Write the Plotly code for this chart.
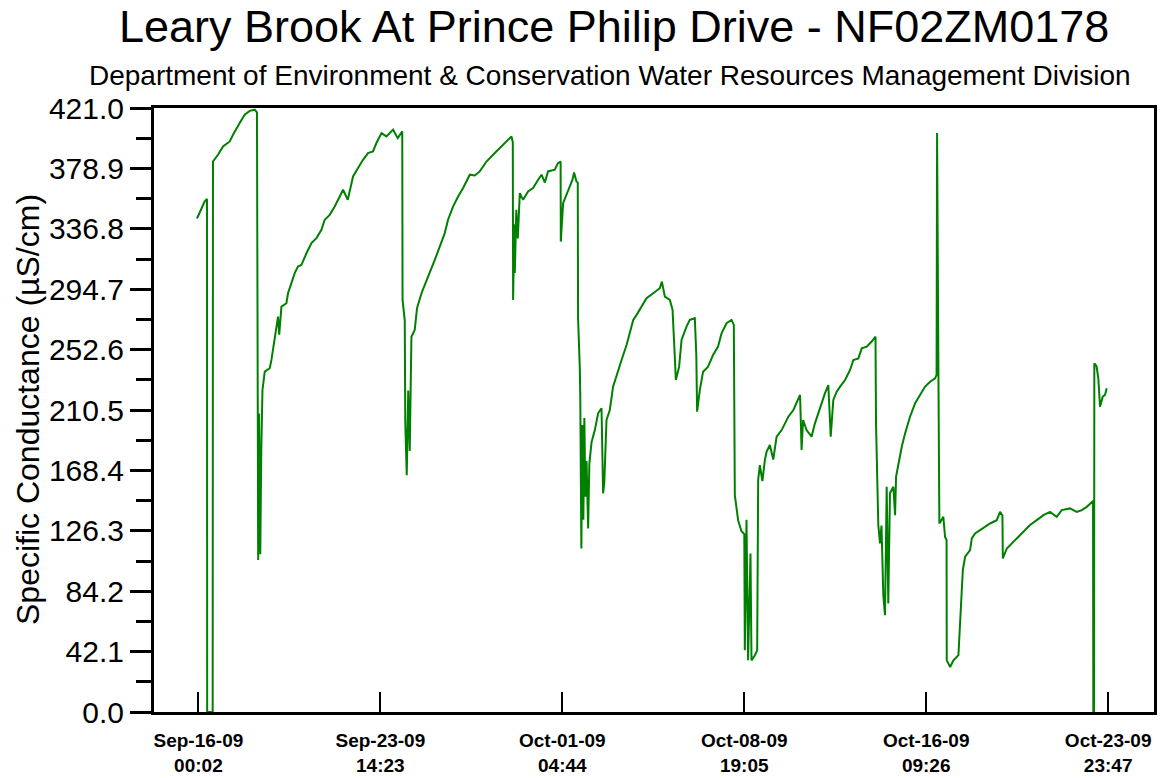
import pandas as pd
import plotly.graph_objects as go

# ---- data ----
start_time = pd.Timestamp("2009-09-16 00:02")

hours_since_start = [
    -1.4, 0.3, 3.3, 6.3, 8.6, 8.8, 14.3, 14.6, 19.6, 24.7,
    31.4, 34.7, 41.4, 46.4, 51.4, 56.4, 58.7, 59.2, 59.9, 60.8,
    62.0, 63.0, 64.2, 66.5, 71.5, 73.2, 76.5, 79.8, 81.0, 83.2,
    88.2, 89.8, 93.2, 96.5, 99.8, 103.3, 108.3, 113.3, 118.3, 123.3,
    126.6, 131.6, 136.6, 140.0, 145.0, 149.7, 155.0, 160.0, 165.0, 170.0,
    175.0, 178.4, 183.5, 188.5, 195.1, 199.8, 204.3, 204.6, 206.8, 207.3,
    208.8, 210.3, 211.8, 213.5, 216.8, 219.1, 223.6, 226.9, 231.9, 236.9,
    241.9, 246.9, 250.2, 255.2, 260.3, 265.3, 272.0, 277.0, 282.0, 288.7,
    295.3, 302.0, 308.8, 313.8, 315.1, 315.4, 316.6, 317.1, 318.6, 320.1,
    322.1, 325.4, 330.4, 335.4, 340.5, 343.9, 347.2, 350.4, 357.1, 360.4,
    363.0, 363.2, 365.5, 368.9, 371.5, 374.9, 376.5, 378.9, 380.2, 380.5,
    382.2, 382.7, 383.8, 384.8, 385.8, 386.8, 387.8, 389.0, 390.6, 391.8,
    394.0, 397.3, 400.6, 404.0, 405.6, 406.8, 409.0, 412.3, 415.6, 419.0,
    424.1, 429.1, 432.4, 435.8, 439.2, 444.1, 449.1, 455.8, 462.4, 464.5,
    467.5, 472.5, 475.2, 476.8, 478.5, 481.8, 484.2, 489.2, 492.5, 497.5,
    499.0, 499.8, 502.5, 505.8, 510.8, 515.8, 520.8, 524.3, 529.3, 534.3,
    536.6, 537.6, 540.9, 544.3, 547.1, 547.6, 548.4, 549.3, 550.9, 553.3,
    554.3, 557.7, 560.0, 561.0, 562.7, 565.2, 567.7, 569.4, 572.7, 576.1,
    579.5, 584.5, 587.9, 591.2, 596.3, 599.7, 603.0, 604.5, 606.0, 609.5,
    614.5, 617.9, 621.2, 624.6, 627.9, 631.3, 633.7, 636.3, 639.7, 643.1,
    648.1, 653.1, 656.4, 661.4, 664.8, 669.8, 674.8, 678.6, 679.1, 681.4,
    683.1, 684.6, 686.4, 688.1, 689.8, 691.4, 693.1, 696.5, 698.2, 699.2,
    701.4, 704.9, 708.2, 713.2, 718.3, 723.3, 728.3, 733.3, 738.3, 739.8,
    740.3, 741.6, 742.6, 746.6, 748.3, 749.8, 750.0, 753.4, 756.7, 761.7,
    763.4, 766.1, 768.4, 773.4, 775.1, 778.4, 783.4, 788.4, 793.4, 800.1,
    803.4, 805.8, 806.2, 810.2, 815.2, 820.2, 826.8, 833.5, 840.2, 846.9,
    853.5, 860.2, 865.2, 873.5, 880.3, 885.3, 890.3, 895.3, 896.6, 896.9,
    897.6, 897.9, 900.1, 901.9, 903.6, 906.3, 908.6, 910.3,
]

conductance = [
    344, 346.5, 352, 356, 357.5, 0, 0, 383.7, 388.4, 394.2,
    397.7, 402.4, 410.5, 416.3, 419, 419.8, 418, 145, 106, 208,
    110, 182, 224.4, 237.2, 239.6, 245.4, 259.3, 275.6, 263, 282.6,
    284.9, 291.9, 298.9, 305.9, 310.5, 311.7, 319.8, 326.8, 330.3, 336.1,
    343.1, 346.5, 352.3, 357, 364, 357, 373.3, 379.1, 384.9, 389.6,
    390.7, 396.6, 403.5, 401.2, 405.9, 400, 404.7, 287.2, 273, 203,
    165, 224, 182, 261.6, 266.3, 281.4, 291.9, 297.7, 305.9, 315.1,
    324.4, 333.8, 343.1, 352.3, 359.3, 365.2, 374.5, 374, 376.8, 383.7,
    388.4, 393.1, 397.7, 401.2, 397, 287.2, 340, 306, 350, 330,
    361.7, 357, 362.8, 365.2, 371, 374.5, 369, 376.8, 378, 382.6,
    383.7, 327.9, 354.7, 360.5, 364, 371, 376.1, 369.8, 369, 274.5,
    240.7, 221, 114, 200, 134, 205, 150, 175, 128, 173,
    188, 196.5, 208.2, 211.7, 152.4, 160, 203.5, 210.5, 226.8, 234.9,
    245.4, 255.8, 264, 273.3, 276.8, 282.6, 288.4, 291.9, 295.4, 300,
    289.5, 287.2, 280.3, 257, 231.4, 240.7, 259.3, 268.6, 273.3, 274.5,
    248.9, 209.3, 224.4, 237.2, 240.7, 248.9, 254.7, 264, 271, 273.3,
    269.8, 151.2, 133.7, 126, 124, 43, 94, 134, 36, 110.5,
    36, 39.6, 43, 161.7, 172.1, 161, 175.6, 181.4, 186.1, 176,
    191.9, 196.5, 201.2, 205.8, 210.5, 216.3, 221, 182.6, 203.5, 196.5,
    191.9, 201.2, 208.2, 215.2, 222.1, 227.9, 191.9, 217.5, 223.3, 226.8,
    231.4, 238.4, 245.4, 246.5, 253.5, 254.7, 258.2, 261.6, 201.2, 130.3,
    117.5, 130, 81.4, 67.5, 157, 75.6, 152.4, 157, 137.2, 164,
    173.3, 184.9, 194.2, 205.8, 215.2, 221, 226.8, 230.2, 232.6, 235,
    403.6, 243, 131.4, 136, 122, 120, 36, 31.4, 36, 39.6,
    66.3, 98.9, 108.2, 112.8, 121, 124.5, 126.8, 129.1, 131.4, 133.7,
    139.5, 137, 107, 114, 117.5, 121, 125.6, 130.3, 133.7, 137.2,
    139.5, 136, 140.7, 141.9, 139.5, 140.7, 143, 146.5, 147, 0,
    0, 243, 241, 232.6, 212.8, 219.8, 221, 225.6,
]

x_tick_times = ["2009-09-16 00:02", "2009-09-23 14:23", "2009-10-01 04:44",
                "2009-10-08 19:05", "2009-10-16 09:26", "2009-10-23 23:47"]
x_tick_labels = ["Sep-16-09<br>00:02", "Sep-23-09<br>14:23", "Oct-01-09<br>04:44",
                 "Oct-08-09<br>19:05", "Oct-16-09<br>09:26", "Oct-23-09<br>23:47"]
y_ticks = [0.0, 42.1, 84.2, 126.3, 168.4, 210.5, 252.6, 294.7, 336.8, 378.9, 421.0]
y_minor_ticks = [(a + b) / 2 for a, b in zip(y_ticks[:-1], y_ticks[1:])]

x_range_hours = [-44.5, 957.7]

times = start_time + pd.to_timedelta(hours_since_start, unit="h")
x_range = [start_time + pd.Timedelta(hours=h) for h in x_range_hours]

FONT = "Liberation Sans, Arial, sans-serif"

fig = go.Figure()
fig.add_trace(go.Scatter(
    x=times, y=conductance, mode="lines",
    line=dict(color="#008000", width=2),
    showlegend=False, hoverinfo="skip",
))

fig.update_layout(
    width=1163, height=778,
    margin=dict(l=154, r=9, t=108, b=66, autoexpand=False),
    paper_bgcolor="white", plot_bgcolor="white",
    font=dict(family=FONT, color="black"),
)

fig.update_xaxes(
    type="date", range=x_range, automargin=False,
    tickmode="array", tickvals=x_tick_times, ticktext=x_tick_labels,
    ticks="inside", ticklen=20, tickwidth=2, tickcolor="black",
    showline=True, linewidth=3, linecolor="black", mirror=True,
    showgrid=False, zeroline=False,
    tickfont=dict(family=FONT, size=19, color="black", weight="bold"),
    ticklabelstandoff=9,
)

fig.update_yaxes(
    range=[0, 421], automargin=False,
    tickmode="array", tickvals=y_ticks, ticktext=[f"{v:.1f}" for v in y_ticks],
    ticks="outside", ticklen=21, tickwidth=3, tickcolor="black",
    minor=dict(tickmode="array", tickvals=y_minor_ticks, ticks="outside",
               ticklen=15, tickwidth=3, tickcolor="black", showgrid=False),
    showline=True, linewidth=3, linecolor="black", mirror=True,
    showgrid=False, zeroline=False,
    tickfont=dict(family=FONT, size=30, color="black"),
)

fig.add_annotation(
    text="Leary Brook At Prince Philip Drive - NF02ZM0178",
    xref="paper", yref="paper", x=0.46, y=1.135, xanchor="center", yanchor="middle",
    showarrow=False, font=dict(family=FONT, size=45, color="black"),
)
fig.add_annotation(
    text="Department of Environment &amp; Conservation Water Resources Management Division",
    xref="paper", yref="paper", x=0.456, y=1.053, xanchor="center", yanchor="middle",
    showarrow=False, font=dict(family=FONT, size=28, color="black"),
)
fig.add_annotation(
    text="Specific Conductance (µS/cm)",
    xref="paper", yref="paper", x=-0.126, y=0.5, xanchor="center", yanchor="middle",
    textangle=-90, showarrow=False, font=dict(family=FONT, size=32, color="black"),
)

fig.write_html("out.html", config={"displayModeBar": False},
               post_script="document.body.style.margin='0';")
